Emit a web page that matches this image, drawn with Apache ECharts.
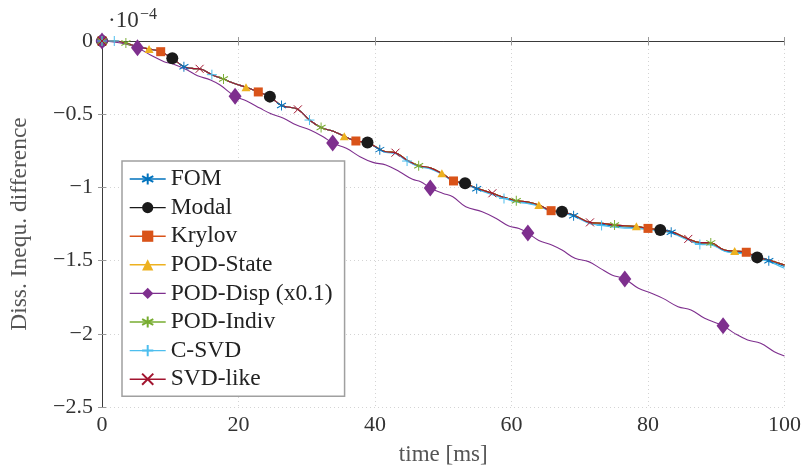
<!DOCTYPE html>
<html>
<head>
<meta charset="utf-8">
<script src="https://cdn.jsdelivr.net/npm/echarts@6/dist/echarts.min.js"></script>
<style>
  html, body { margin: 0; padding: 0; background: #ffffff; }
  #chart { width: 804px; height: 472px; }
</style>
</head>
<body>
<div id="chart"></div>
<script>
// Sample times [ms] shared by the reduced models and the FOM
const reducedTimes = [0, 1.8, 3.5, 5.2, 6.9, 8.6, 10.3, 12.0, 13.2, 14.3,
  16.1, 17.8, 19.3, 21.1, 22.9, 24.6, 26.3, 28.7, 30.4, 32.1,
  33.9, 35.5, 37.2, 38.9, 40.7, 41.6, 43.0, 44.7, 46.4, 48.0,
  49.8, 51.5, 53.2, 54.9, 57.2, 58.9, 60.7, 62.3, 64.0, 65.8,
  67.4, 69.1, 71.5, 73.2, 75.1, 76.6, 78.3, 80.0, 81.8, 83.4,
  85.9, 87.6, 89.2, 91.2, 92.7, 94.4, 96.0, 97.7, 100];

// Dissipation inequality difference (×1e-4)
// Modal, Krylov, POD-State, POD-Indiv and SVD-like lie on top of each other
const reducedValues = [0, 0, -0.014, -0.039, -0.055, -0.073, -0.118, -0.176, -0.187, -0.190,
  -0.230, -0.260, -0.289, -0.316, -0.348, -0.380, -0.440, -0.467, -0.540, -0.591,
  -0.617, -0.651, -0.683, -0.694, -0.740, -0.756, -0.763, -0.815, -0.852, -0.865,
  -0.904, -0.956, -0.972, -1.006, -1.040, -1.068, -1.091, -1.098, -1.120, -1.159,
  -1.166, -1.189, -1.239, -1.245, -1.257, -1.262, -1.266, -1.280, -1.291, -1.302,
  -1.352, -1.376, -1.379, -1.428, -1.434, -1.443, -1.478, -1.496, -1.530];

const fomValues = [0, 0, -0.014, -0.039, -0.055, -0.073, -0.118, -0.176, -0.187, -0.190,
  -0.230, -0.260, -0.289, -0.316, -0.348, -0.380, -0.440, -0.467, -0.540, -0.591,
  -0.617, -0.651, -0.683, -0.694, -0.742, -0.759, -0.766, -0.818, -0.855, -0.868,
  -0.907, -0.958, -0.975, -1.009, -1.045, -1.072, -1.095, -1.104, -1.124, -1.161,
  -1.170, -1.193, -1.243, -1.252, -1.264, -1.270, -1.273, -1.284, -1.294, -1.307,
  -1.356, -1.383, -1.386, -1.432, -1.441, -1.449, -1.482, -1.501, -1.541];

const csvdValues = [0, 0, -0.014, -0.039, -0.055, -0.073, -0.118, -0.176, -0.187, -0.190,
  -0.230, -0.260, -0.289, -0.316, -0.348, -0.380, -0.440, -0.467, -0.540, -0.591,
  -0.617, -0.651, -0.683, -0.694, -0.744, -0.762, -0.770, -0.820, -0.858, -0.872,
  -0.910, -0.960, -0.978, -1.012, -1.050, -1.076, -1.100, -1.110, -1.128, -1.164,
  -1.174, -1.197, -1.248, -1.260, -1.272, -1.278, -1.281, -1.288, -1.298, -1.312,
  -1.360, -1.390, -1.393, -1.436, -1.449, -1.455, -1.486, -1.507, -1.553];

// POD-Disp, plotted scaled by 0.1
const podDispTimes = [0, 2.5, 5.2, 7.1, 9.1, 10.5, 12.5, 14.0, 15.9, 17.3,
  19.5, 21.2, 23.2, 24.6, 26.6, 28.5, 30.5, 32.4, 33.8, 35.8,
  37.8, 39.7, 41.6, 43.6, 45.5, 46.7, 48.1, 49.9, 51.4, 53.3,
  55.7, 57.7, 59.6, 61.1, 62.4, 64.0, 65.9, 67.4, 69.3, 71.3,
  73.0, 74.7, 76.6, 78.6, 80.5, 82.2, 84.4, 86.3, 88.3, 91.0,
  92.7, 94.6, 96.5, 98.5, 100];
const podDispValues = [0, -0.012, -0.046, -0.096, -0.141, -0.159, -0.198, -0.237, -0.266, -0.301,
  -0.378, -0.410, -0.460, -0.494, -0.528, -0.574, -0.608, -0.654, -0.697, -0.733,
  -0.790, -0.829, -0.847, -0.893, -0.945, -0.961, -1.004, -1.040, -1.064, -1.132,
  -1.166, -1.211, -1.264, -1.280, -1.312, -1.362, -1.393, -1.428, -1.484, -1.507,
  -1.553, -1.598, -1.626, -1.689, -1.723, -1.758, -1.815, -1.837, -1.894, -1.945,
  -1.997, -2.042, -2.065, -2.122, -2.152];

// Times at which each curve carries a marker
const fomMarks = [0, 12.0, 26.3, 40.7, 54.9, 69.1, 83.4, 97.7];
const modalMarks = [0, 10.3, 24.6, 38.9, 53.2, 67.4, 81.8, 96.0];
const krylovMarks = [0, 8.6, 22.9, 37.2, 51.5, 65.8, 80.0, 94.4];
const podStateMarks = [0, 6.9, 21.1, 35.5, 49.8, 64.0, 78.3, 92.7];
const podDispMarks = [0, 5.2, 19.5, 33.8, 48.1, 62.4, 76.6, 91.0];
const podIndivMarks = [0, 3.5, 17.8, 32.1, 46.4, 60.7, 75.1, 89.2];
const csvdMarks = [0, 1.8, 16.1, 30.4, 44.7, 58.9, 73.2, 87.6];
const svdLikeMarks = [0, 14.3, 28.7, 43.0, 57.2, 71.5, 85.9];

// Axis ticks
const xTicks = [0, 20, 40, 60, 80, 100];
const yTicks = [-2.5, -2, -1.5, -1, -0.5, 0];

const SERIF = '"Liberation Serif", "DejaVu Serif", serif';

const ASTERISK = 'path://M5,0L5,10M0.67,2.5L9.33,7.5M0.67,7.5L9.33,2.5';
const PLUS = 'path://M5,0L5,10M0,5L10,5';
const CROSS = 'path://M0,0L10,10M0,10L10,0';

const curves = [
  { name: 'FOM', times: reducedTimes, values: fomValues, marks: fomMarks,
    color: '#0072BD', symbol: ASTERISK, size: [9, 10], stroke: true },
  { name: 'Modal', times: reducedTimes, values: reducedValues, marks: modalMarks,
    color: '#1a1a1a', symbol: 'circle', size: 12, stroke: false },
  { name: 'Krylov', times: reducedTimes, values: reducedValues, marks: krylovMarks,
    color: '#D95319', symbol: 'rect', size: 9, stroke: false },
  { name: 'POD-State', times: reducedTimes, values: reducedValues, marks: podStateMarks,
    color: '#EDB120', symbol: 'triangle', size: [9, 8], stroke: false },
  { name: 'POD-Disp (x0.1)', times: podDispTimes, values: podDispValues, marks: podDispMarks,
    color: '#7E2F8E', symbol: 'diamond', size: [13, 17], stroke: false },
  { name: 'POD-Indiv', times: reducedTimes, values: reducedValues, marks: podIndivMarks,
    color: '#77AC30', symbol: ASTERISK, size: [9, 10], stroke: true },
  { name: 'C-SVD', times: reducedTimes, values: csvdValues, marks: csvdMarks,
    color: '#4DBEEE', symbol: PLUS, size: 10, stroke: true },
  { name: 'SVD-like', times: reducedTimes, values: reducedValues, marks: svdLikeMarks,
    color: '#A2142F', symbol: CROSS, size: 8, stroke: true }
];

function pairs(times, values) {
  return times.map((t, i) => [t, values[i]]);
}
function markPoints(times, values, marks) {
  return marks.map(m => {
    const i = times.findIndex(t => Math.abs(t - m) < 1e-9);
    return [times[i], values[i]];
  });
}
function symbolStyle(c) {
  return c.stroke
    ? { color: c.color, borderColor: c.color, borderWidth: 1, opacity: 1 }
    : { color: c.color, borderWidth: 0, opacity: 1 };
}

const series = [];
curves.forEach(c => {
  series.push({
    name: c.name, type: 'line',
    data: pairs(c.times, c.values),
    smooth: 0.4,
    showSymbol: false,
    symbol: c.symbol, symbolSize: c.size,
    lineStyle: { color: c.color, width: 1.1 },
    itemStyle: symbolStyle(c),
    emphasis: { disabled: true },
    z: 2
  });
});
curves.forEach(c => {
  series.push({
    name: c.name, type: 'scatter',
    data: markPoints(c.times, c.values, c.marks),
    symbol: c.symbol, symbolSize: c.size,
    itemStyle: symbolStyle(c),
    emphasis: { disabled: true },
    z: 3
  });
});

const frameLine = { show: true, lineStyle: { color: '#3a3a3a', width: 1 } };
const innerTick = { show: true, inside: true, length: 4, lineStyle: { color: '#999' } };
const gridDots = { show: true, lineStyle: { color: '#d4d4d4', type: [1, 3], width: 1 } };

const chart = echarts.init(document.getElementById('chart'), null, { renderer: 'canvas' });
chart.setOption({
  animation: false,
  backgroundColor: '#ffffff',
  grid: { left: 101, right: 17, top: 41, bottom: 65 },
  xAxis: [{
    type: 'value', position: 'bottom',
    min: xTicks[0], max: xTicks[xTicks.length - 1], interval: 20,
    name: 'time [ms]', nameLocation: 'middle', nameGap: 36,
    nameTextStyle: { fontFamily: SERIF, fontSize: 23, color: '#555' },
    axisLine: frameLine,
    axisTick: innerTick,
    axisLabel: { fontFamily: SERIF, fontSize: 22, color: '#333', margin: 7 },
    splitLine: gridDots
  }, {
    type: 'value', position: 'top',
    min: xTicks[0], max: xTicks[xTicks.length - 1], interval: 20,
    axisLine: frameLine, axisTick: innerTick,
    axisLabel: { show: false }, splitLine: { show: false }
  }],
  yAxis: [{
    type: 'value', position: 'left',
    min: yTicks[0], max: yTicks[yTicks.length - 1], interval: 0.5,
    name: 'Diss. Inequ. difference', nameLocation: 'middle', nameGap: 70,
    nameTextStyle: { fontFamily: SERIF, fontSize: 23.5, color: '#555' },
    axisLine: frameLine,
    axisTick: innerTick,
    axisLabel: {
      fontFamily: SERIF, fontSize: 22, color: '#333', margin: 9,
      formatter: v => (v === 0 ? '0' : '\u2212' + Math.abs(v))
    },
    splitLine: gridDots
  }, {
    type: 'value', position: 'right',
    min: yTicks[0], max: yTicks[yTicks.length - 1], interval: 0.5,
    axisLine: frameLine, axisTick: innerTick,
    axisLabel: { show: false }, splitLine: { show: false }
  }],
  legend: {
    data: curves.map(c => c.name),
    orient: 'vertical',
    left: 122, top: 161,
    padding: [6, 12, 5, 7],
    itemWidth: 36, itemHeight: 14, itemGap: 4.6,
    backgroundColor: '#ffffff',
    borderColor: '#a0a0a0', borderWidth: 1.5, borderRadius: 0,
    selectedMode: false,
    lineStyle: { width: 1.4 },
    textStyle: { fontFamily: SERIF, fontSize: 23.5, color: '#222', lineHeight: 24 }
  },
  graphic: [
    { type: 'text', left: 108, top: 9,
      style: { text: '\u00b710', font: '23px ' + SERIF, fill: '#333' } },
    { type: 'text', left: 140, top: 7,
      style: { text: '\u22124', font: '16px ' + SERIF, fill: '#333' } }
  ],
  series: series
});
</script>
</body>
</html>
